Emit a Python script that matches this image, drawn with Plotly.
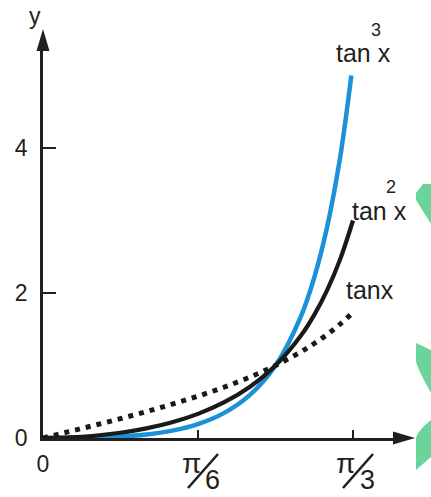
import plotly.graph_objects as go

# ---------------- data ----------------
x_vals = [0.0, 0.0873, 0.1745, 0.2618, 0.3491, 0.4363, 0.5236, 0.6109, 0.6981,
          0.7854, 0.8727, 0.9163, 0.9599, 1.0036, 1.0472]
tan_x = [0.0, 0.0875, 0.1763, 0.2679, 0.3640, 0.4663, 0.5774, 0.7002, 0.8391,
         1.0, 1.1918, 1.3032, 1.4281, 1.5697, 1.7321]
tan2_x = [0.0, 0.0077, 0.0311, 0.0718, 0.1325, 0.2174, 0.3333, 0.4903, 0.7041,
          1.0, 1.4203, 1.6984, 2.0396, 2.4639, 3.0]
x_vals3 = [0.0, 0.0873, 0.1745, 0.2618, 0.3491, 0.4363, 0.5236, 0.6109, 0.6981,
           0.7854, 0.8727, 0.9163, 0.9599, 1.0036, 1.0416]
tan3_x = [0.0, 0.0007, 0.0055, 0.0192, 0.0482, 0.1014, 0.1925, 0.3433, 0.5908,
          1.0, 1.6926, 2.2134, 2.9129, 3.8676, 5.0]

x_tick_vals = [0.0, 0.5236, 1.0472]
x_tick_text = ["0", "", ""]
y_tick_vals = [0, 2, 4]
y_tick_text = ["0", "2", "4"]

# ---------------- layout geometry ----------------
W, H = 431, 497
L, R, T, B = 43, 398, 50, 438
PX_PER_X = 296.03
PX_PER_Y = 72.5
DARK = "#231f20"
BLUE = "#1a91d8"
FONT = "Liberation Sans, Arial, sans-serif"


def P(px, py):
    return (px - L) / (R - L), (B - py) / (B - T)


fig = go.Figure()
fig.add_trace(go.Scatter(x=x_vals3, y=tan3_x, mode="lines",
                         line=dict(color=BLUE, width=4.5, shape="spline")))
fig.add_trace(go.Scatter(x=x_vals, y=tan2_x, mode="lines",
                         line=dict(color="#1a1a1a", width=4.2, shape="spline")))
fig.add_trace(go.Scatter(x=x_vals, y=tan_x, mode="lines",
                         line=dict(color="#1a1a1a", width=5, dash="5px,6px", shape="spline")))

shapes = []
# axis arrowheads
ax0, ay0 = P(415, 438); ax1, ay1 = P(393, 431.5); ax2, ay2 = P(393, 444.5)
shapes.append(dict(type="path", xref="paper", yref="paper",
                   path=f"M {ax0},{ay0} L {ax1},{ay1} L {ax2},{ay2} Z",
                   fillcolor=DARK, line=dict(width=0)))
bx0, by0 = P(43, 29); bx1, by1 = P(36.5, 51); bx2, by2 = P(49.5, 51)
shapes.append(dict(type="path", xref="paper", yref="paper",
                   path=f"M {bx0},{by0} L {bx1},{by1} L {bx2},{by2} Z",
                   fillcolor=DARK, line=dict(width=0)))
# fraction slashes
for (x0, y0, x1, y1) in [(188, 488, 218, 454), (343, 488, 373, 454)]:
    a, b = P(x0, y0); c, d = P(x1, y1)
    shapes.append(dict(type="line", xref="paper", yref="paper", x0=a, y0=b, x1=c, y1=d,
                       line=dict(color=DARK, width=2.6)))
# green decorations on right edge
greens = [
    [(416, 193), (423, 184), (431, 184), (431, 224), (416, 200)],
    [(416, 343), (431, 350), (431, 393), (425, 382), (419, 370), (416, 362)],
    [(431, 420), (424, 426), (418, 433), (416, 438), (416, 470), (431, 457)],
]
for poly in greens:
    pts = [P(*p) for p in poly]
    path = "M " + " L ".join(f"{a},{b}" for a, b in pts) + " Z"
    shapes.append(dict(type="path", xref="paper", yref="paper", path=path,
                       fillcolor="#6ad49a", line=dict(width=0), layer="below"))

ann = []


def text(px, py, s, size):
    a, b = P(px, py)
    ann.append(dict(x=a, y=b, xref="paper", yref="paper", text=s, showarrow=False,
                    xanchor="center", yanchor="middle", borderpad=0,
                    font=dict(family=FONT, size=size, color=DARK)))


text(35, 16, "y", 23)
text(363, 53, "tan x", 25)
text(376, 30, "3", 18)
text(379, 211, "tan x", 25)
text(391, 187, "2", 18)
text(370, 290, "tanx", 25)
text(191, 463, "π", 28)
text(212, 480, "6", 27)
text(345, 463, "π", 28)
text(367, 480, "3", 27)

fig.update_layout(
    width=W, height=H,
    margin=dict(l=L, r=W - R, t=T, b=H - B),
    paper_bgcolor="white", plot_bgcolor="white",
    showlegend=False,
    shapes=shapes, annotations=ann,
    xaxis=dict(range=[0, (R - L) / PX_PER_X], showgrid=False, zeroline=False,
               showline=True, linecolor=DARK, linewidth=2.5,
               tickvals=x_tick_vals, ticktext=x_tick_text,
               ticks="inside", ticklen=8, tickwidth=2.2, tickcolor=DARK,
               ticklabelstandoff=4,
               tickfont=dict(family=FONT, size=23, color=DARK)),
    yaxis=dict(range=[0, (B - T) / PX_PER_Y], showgrid=False, zeroline=False,
               showline=True, linecolor=DARK, linewidth=2.5,
               tickvals=y_tick_vals, ticktext=y_tick_text,
               ticks="inside", ticklen=13, tickwidth=2.2, tickcolor=DARK,
               ticklabelstandoff=8,
               tickfont=dict(family=FONT, size=23, color=DARK)),
)

fig.write_html("out.html", config={"displayModeBar": False},
               post_script="document.body.style.margin='0';document.body.style.overflow='hidden';")
